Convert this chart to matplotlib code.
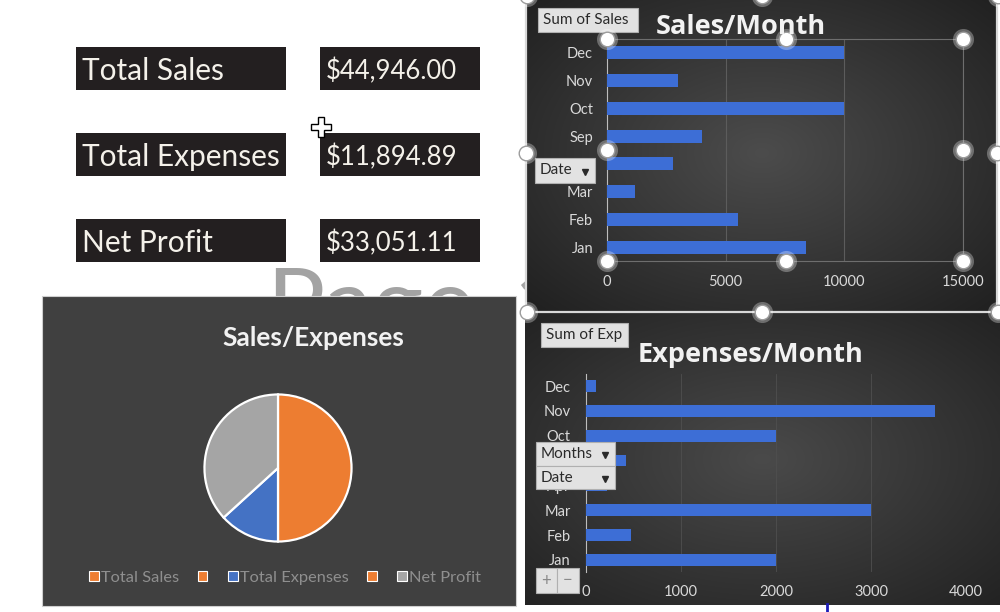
import matplotlib
matplotlib.use('Agg')
import matplotlib.pyplot as plt
from matplotlib.patches import Rectangle, Patch
from matplotlib.colors import to_rgb
import numpy as np

plt.rcParams['font.family'] = ['Lato', 'DejaVu Sans']

# data
months = ['Jan', 'Feb', 'Mar', 'Apr', 'Sep', 'Oct', 'Nov', 'Dec']
sales = [8400, 5500, 1200, 2800, 4000, 10000, 3000, 10000]
expenses = [2000, 470, 3000, 225, 420, 2000, 3670, 110]
kpi_labels = ['Total Sales', 'Total Expenses', 'Net Profit']
kpi_values = [44946.00, 11894.89, 33051.11]
pie_labels = ['Total Sales', '', 'Total Expenses', '', 'Net Profit']
pie_colors = ['#ED7D31', '#ED7D31', '#4472C4', '#ED7D31', '#A5A5A5']

W, H = 1000, 612
fig = plt.figure(figsize=(10, 6.12), dpi=100)
fig.patch.set_facecolor('white')

def box(x0, y0, x1, y1):
    return [x0 / W, 1 - y1 / H, (x1 - x0) / W, (y1 - y0) / H]

def radial(ax, x0, y0, x1, y1, c_in, c_out, z):
    X, Y = np.meshgrid(np.linspace(0, 1, 240), np.linspace(0, 1, 240))
    r = np.clip(np.sqrt((X - 0.5) ** 2 + (Y - 0.5) ** 2) / 0.72, 0, 1)
    ci, co = np.array(to_rgb(c_in)), np.array(to_rgb(c_out))
    img = ci * (1 - r[..., None]) + co * r[..., None]
    ax.imshow(img, extent=(x0, x1, y1, y0), aspect='auto', zorder=z, interpolation='bilinear')

# page / background layer
bg = fig.add_axes([0, 0, 1, 1], zorder=0)
bg.axis('off')

# KPI boxes
for i, (lab, val) in enumerate(zip(kpi_labels, kpi_values)):
    y0 = 47 + i * 86
    bg.add_patch(Rectangle((76, y0), 210, 43, fc='#231f20', ec='none', zorder=2))
    bg.add_patch(Rectangle((320, y0), 160, 43, fc='#231f20', ec='none', zorder=2))
    bg.text(82, y0 + 24, lab, fontsize=21.5, color='#f4f1ea', va='center', ha='left', zorder=3)
    bg.text(326, y0 + 24, f'${val:,.2f}', fontsize=18.5, color='#f4f1ea', va='center', ha='left', zorder=3)

# watermark behind the pie panel
bg.text(266, 337, 'Page', fontsize=70, color='#a3a3a3', va='baseline', ha='left', zorder=1)
bg.text(512, 337, '1', fontsize=70, color='#a3a3a3', va='baseline', ha='left', zorder=1)

# panels
bg.add_patch(Rectangle((42, 296), 474, 310, fc='#404040', ec='#cfcfcf', lw=0.8, zorder=4))
radial(bg, 526, -6, 998, 312, '#4c4c4c', '#1f1f1f', 4)
radial(bg, 525, 313, 1000, 605, '#4a4a4a', '#222222', 4)
bg.plot([526, 526, 998], [-6, 312, 312], color='#d8d8d8', lw=1.6, zorder=5)
bg.plot([997, 997], [-6, 312], color='#d8d8d8', lw=1.6, zorder=5)
bg.plot([827, 827], [604, 612], color='#1c1cb8', lw=2, zorder=5)
bg.set_xlim(0, W); bg.set_ylim(H, 0)

y = np.arange(len(months))

# Sales/Month
ax1 = fig.add_axes(box(607, 39, 963, 261), zorder=2)
ax1.patch.set_alpha(0)
ax1.barh(y, sales, height=0.47, color='#3D6ED6', zorder=3)
ax1.set_xlim(0, 15000); ax1.set_ylim(-0.5, 7.5)
ax1.set_yticks(y, months)
ax1.set_xticks([0, 5000, 10000, 15000])
ax1.tick_params(length=0, colors='#d9d9d9', labelsize=10.5)
ax1.tick_params(axis='y', pad=10); ax1.tick_params(axis='x', pad=10)
ax1.grid(axis='x', color='#5c5c5c', lw=0.8); ax1.set_axisbelow(True)
for s in ax1.spines.values(): s.set_color('#6e6e6e'); s.set_linewidth(0.8)
ax1.spines['left'].set_color('#bdbdbd')

# Expenses/Month
ax2 = fig.add_axes(box(586, 373.6, 966, 572.4), zorder=2)
ax2.patch.set_alpha(0)
ax2.barh(y, expenses, height=0.47, color='#3D6ED6', zorder=3)
ax2.set_xlim(0, 4000); ax2.set_ylim(-0.5, 7.5)
ax2.set_yticks(y, months)
ax2.set_xticks([0, 1000, 2000, 3000, 4000])
ax2.tick_params(length=0, colors='#d9d9d9', labelsize=10.5)
ax2.tick_params(axis='y', pad=11); ax2.tick_params(axis='x', pad=9)
ax2.grid(axis='x', color='#4f4f4f', lw=0.6); ax2.set_axisbelow(True)
for k in ['top', 'right', 'bottom']: ax2.spines[k].set_visible(False)
ax2.spines['left'].set_color('#bdbdbd')

# Sales/Expenses pie
ax3 = fig.add_axes(box(203, 393, 353, 543), zorder=2)
ax3.pie(kpi_values, colors=['#ED7D31', '#4472C4', '#A5A5A5'], startangle=90, counterclock=False,
        wedgeprops=dict(edgecolor='white', linewidth=1.6))
ax3.set_xlim(-1.02, 1.02); ax3.set_ylim(-1.02, 1.02)
handles = [Patch(facecolor=c, edgecolor='white', lw=0.8) for c in pie_colors]
ax3.legend(handles, pie_labels, loc='center', bbox_to_anchor=(0.285, 1 - 578 / H), bbox_transform=fig.transFigure,
           ncol=5, frameon=False, fontsize=11.8, labelcolor='#8f8f8f', handlelength=0.6, handleheight=0.6,
           handletextpad=0.12, columnspacing=1.12)

# overlay: titles, field buttons, selection handles
ov = fig.add_axes([0, 0, 1, 1], zorder=5)
ov.axis('off')
ov.text(741, 27, 'Sales/Month', fontsize=19.5, fontweight='bold', family='Open Sans', color='#f2f2f2', ha='center', va='center')
ov.text(751, 355, 'Expenses/Month', fontsize=19.5, fontweight='bold', family='Open Sans', color='#f2f2f2', ha='center', va='center')
ov.text(313, 338, 'Sales/Expenses', fontsize=19, fontweight='bold', color='#f2f2f2', ha='center', va='center')

def button(x0, y0, x1, y1, label, arrow=False):
    ov.add_patch(Rectangle((x0, y0), x1 - x0, y1 - y0, fc='#e2e2e2', ec='#b0b0b0', lw=0.8))
    if label:
        ov.text(x0 + 5, (y0 + y1) / 2, label, fontsize=11, color='#2a2a2a', ha='left', va='center')
    if arrow:
        ov.plot(x1 - 10, (y0 + y1) / 2 + 1, marker='v', color='#2a2a2a', ms=5)

button(538, 8, 638, 32, 'Sum of Sales')
button(535, 158, 595, 183, 'Date', True)
button(541, 323, 628, 347, 'Sum of Exp')
button(536, 442, 615, 466, 'Months', True)
button(536, 466, 615, 489, 'Date', True)
button(536, 568, 557, 593, '')
button(557, 568, 579, 593, '')
ov.text(546.5, 581, '+', fontsize=12, color='#8a8a8a', ha='center', va='center')
ov.text(568, 580, '\u2212', fontsize=12, color='#8a8a8a', ha='center', va='center')

hx = [607, 786, 963, 607, 963, 607, 786, 963, 527, 762, 998, 526, 997, 527, 762, 998]
hy = [39, 39, 39, 150, 150, 261, 261, 261, -4, -4, -4, 153, 153, 312, 312, 312]
ov.scatter(hx, hy, s=230, c='white', alpha=0.3, lw=0)
ov.scatter(hx, hy, s=110, c='white', edgecolors='#9c9c9c', lw=1)

# move cursor
ov.plot(321, 127, marker='P', ms=15, mfc='white', mec='black', mew=1)
ov.set_xlim(0, W); ov.set_ylim(H, 0)

fig.savefig('out.png', dpi=100, facecolor='white')
